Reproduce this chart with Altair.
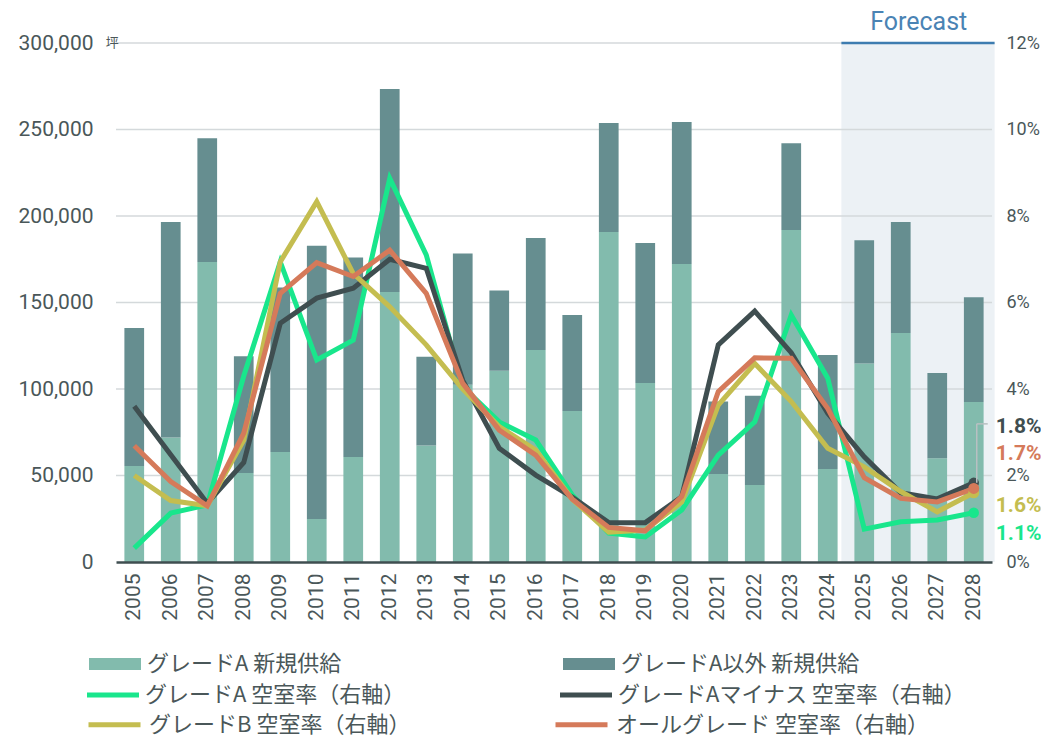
import altair as alt
import pandas as pd

# ---------------- data ----------------
years = list(range(2005, 2029))
grade_a_supply = [55500, 72000, 173400, 51400, 63600, 24900, 60700, 156000, 67400, 102400,
                  110600, 122500, 87300, 190800, 103500, 172300, 50900, 44500, 191900, 53800,
                  114800, 132400, 60000, 92500]
other_supply = [79800, 124500, 71600, 67600, 95000, 157900, 115300, 117400, 51200, 75900,
                46400, 64800, 55500, 63000, 80900, 82000, 41900, 51600, 50100, 65900,
                71200, 64100, 49300, 60500]
vac_a = [0.32, 1.13, 1.32, 4.3, 6.94, 4.67, 5.13, 8.87, 7.1, 4.05, 3.24, 2.82, 1.55, 0.67,
         0.58, 1.2, 2.47, 3.24, 5.71, 4.25, 0.76, 0.93, 0.97, 1.14]
vac_a_minus = [3.6, 2.48, 1.36, 2.3, 5.52, 6.1, 6.33, 7.0, 6.79, 4.2, 2.63, 2.01, 1.5, 0.91,
               0.91, 1.51, 5.02, 5.8, 4.84, 3.44, 2.43, 1.6, 1.46, 1.83]
vac_b = [2.0, 1.42, 1.3, 2.82, 6.94, 8.33, 6.67, 5.9, 5.02, 4.0, 3.13, 2.59, 1.45, 0.69,
         0.74, 1.39, 3.63, 4.59, 3.71, 2.63, 2.2, 1.63, 1.16, 1.6]
vac_all = [2.69, 1.86, 1.3, 2.98, 6.21, 6.92, 6.6, 7.21, 6.21, 4.13, 3.05, 2.47, 1.45, 0.8,
           0.72, 1.51, 3.94, 4.72, 4.71, 3.55, 1.95, 1.47, 1.39, 1.7]

left_ticks = [0, 50000, 100000, 150000, 200000, 250000, 300000]
right_ticks = [0, 2, 4, 6, 8, 10, 12]
forecast_start, forecast_end = 2025, 2028
end_labels = ["1.8%", "1.7%", "1.6%", "1.1%"]

S_A_NEW = "グレードA 新規供給"
S_OTHER_NEW = "グレードA以外 新規供給"
S_VA = "グレードA 空室率（右軸）"
S_VAM = "グレードAマイナス 空室率（右軸）"
S_VB = "グレードB 空室率（右軸）"
S_VALL = "オールグレード 空室率（右軸）"

# ---------------- styles ----------------
LIGHT = "#82bbad"
DARK = "#668e90"
GREEN = "#19e68c"
DARKLINE = "#3f4e50"
OLIVE = "#c4bd50"
ORANGE = "#d57a5a"
BLUE = "#4a83b4"
BLUELINE = "#3d7cb0"
SHADE = "#ecf1f5"
GRID = "#d4d9db"
TXT = "#4a5759"
FONT = "Roboto"
JP = "Noto Sans CJK JP"

# ---------------- tables ----------------
bar_rows = []
for i, y in enumerate(years):
    bar_rows.append({"year": y, "series": S_A_NEW, "supply": grade_a_supply[i], "ord": 0})
    bar_rows.append({"year": y, "series": S_OTHER_NEW, "supply": other_supply[i], "ord": 1})
bars_df = pd.DataFrame(bar_rows)

line_series = [(S_VA, vac_a, GREEN), (S_VAM, vac_a_minus, DARKLINE),
               (S_VB, vac_b, OLIVE), (S_VALL, vac_all, ORANGE)]
line_df = pd.DataFrame([{"year": y, "series": s, "rate": v[i]}
                        for (s, v, c) in line_series for i, y in enumerate(years)])
grid_df = pd.DataFrame({"v": left_ticks[1:]})
fc_df = pd.DataFrame({"start": [forecast_start], "end": [forecast_end]})
fc_text_df = pd.DataFrame({"year": [2026]})
unit_df = pd.DataFrame({"year": [years[0]]})

# ---------------- shared scales / axes ----------------
X_SCALE = alt.Scale(paddingInner=0.46, paddingOuter=0.23)
LY_SCALE = alt.Scale(domain=[0, 300000], nice=False)
RY_SCALE = alt.Scale(domain=[0, 12], nice=False)
FILL_SCALE = alt.Scale(domain=[S_VA, S_VAM], range=[GREEN, DARKLINE])      # legend row 2
STROKE_SCALE = alt.Scale(domain=[S_VB, S_VALL], range=[OLIVE, ORANGE])     # legend row 3

X_AX = alt.Axis(title=None, labelAngle=-90, labelAlign="right", labelBaseline="middle",
                labelFont=FONT, labelFontSize=21, labelColor=TXT, labelPadding=11,
                ticks=False, domainColor=DARKLINE, domainWidth=2.5, zindex=1, grid=False)
LY_AX = alt.Axis(title=None, values=left_ticks, labelExpr="format(datum.value, ',')",
                 domain=False, ticks=False, grid=False, labelFont=FONT, labelFontSize=21,
                 labelColor=TXT, labelPadding=23)
RY_AX = alt.Axis(orient="right", title=None, values=right_ticks,
                 labelExpr="datum.value + '%'", domain=False, ticks=False, grid=False,
                 labelFont=FONT, labelFontSize=18, labelColor=TXT, labelPadding=14)

LEG_COMMON = dict(title=None, orient="none", columns=2, direction="horizontal",
                  labelFont=JP, labelFontSize=22, labelColor=TXT, labelOffset=6,
                  labelLimit=500, padding=0, symbolSize=2704)


def xe(field="year:O", **kw):
    return alt.X(field, scale=X_SCALE, axis=X_AX, **kw)


def ly(field=None, datum=None, **kw):
    if datum is not None:
        return alt.Y(datum=datum, scale=LY_SCALE, axis=LY_AX, **kw)
    return alt.Y(field, scale=LY_SCALE, axis=LY_AX, **kw)


def ry(field="rate:Q"):
    return alt.Y(field, scale=RY_SCALE, axis=RY_AX)


# ---------------- left-axis layers ----------------
shade = alt.Chart(fc_df).mark_rect(color=SHADE, xOffset=-13, x2Offset=11).encode(
    x=xe("start:O", bandPosition=0),
    x2=alt.X2("end", bandPosition=1),
)
grid = alt.Chart(grid_df).mark_rule(color=GRID, strokeWidth=1.5).encode(y=ly("v:Q"))
fc_line = alt.Chart(fc_df).mark_rule(color=BLUELINE, strokeWidth=2.5, xOffset=-13, x2Offset=11).encode(
    x=xe("start:O", bandPosition=0),
    x2=alt.X2("end", bandPosition=1),
    y=ly(datum=300000),
)
bars = alt.Chart(bars_df).mark_bar().encode(
    x=xe(),
    y=ly("supply:Q", stack="zero"),
    color=alt.Color("series:N",
                    scale=alt.Scale(domain=[S_A_NEW, S_OTHER_NEW], range=[LIGHT, DARK]),
                    legend=alt.Legend(legendX=-27, legendY=595, columnPadding=221,
                                      symbolType="M-1,-0.23H1V0.23H-1Z",
                                      symbolStrokeWidth=0, symbolOpacity=1, **LEG_COMMON)),
    order=alt.Order("ord:Q", sort="ascending"),
)
fc_text = alt.Chart(fc_text_df).mark_text(text="Forecast", dx=18, dy=-21, fontSize=25,
                                          color=BLUE, font=FONT, baseline="middle").encode(
    x=xe(), y=ly(datum=300000)
)
unit_text = alt.Chart(unit_df).mark_text(text="坪", dx=-22, fontSize=13, color=TXT, font=JP,
                                         baseline="middle").encode(
    x=xe(), y=ly(datum=300000)
)
left = alt.layer(shade, grid, fc_line, bars, fc_text, unit_text)

# ---------------- right-axis layers ----------------
line_layers = []
for s, v, c in line_series:
    line_layers.append(
        alt.Chart(line_df).transform_filter(alt.datum.series == s)
        .mark_line(strokeWidth=5, strokeJoin="miter", color=c)
        .encode(x=xe(), y=ry())
    )

fill_legend = alt.Legend(legendX=-29, legendY=626, columnPadding=154,
                         symbolType="M-1,-0.1H1V0.1H-1Z", symbolStrokeWidth=0,
                         symbolOpacity=1, **LEG_COMMON)
stroke_legend = alt.Legend(legendX=-30, legendY=653, columnPadding=134,
                           symbolType="stroke", symbolStrokeWidth=5, **LEG_COMMON)
dots = []
for s, v, c in line_series:
    base = (alt.Chart(line_df)
            .transform_filter((alt.datum.series == s) & (alt.datum.year == years[-1])))
    if s in (S_VA, S_VAM):
        dots.append(base.mark_circle(size=110, opacity=1)
                    .encode(x=xe(), y=ry(),
                            fill=alt.Fill("series:N", scale=FILL_SCALE, legend=fill_legend)))
    else:
        dots.append(base.mark_circle(size=90, opacity=1, fill=c, strokeWidth=1.5)
                    .encode(x=xe(), y=ry(),
                            stroke=alt.Stroke("series:N", scale=STROKE_SCALE,
                                              legend=stroke_legend)))

conn_df = line_df[(line_df.series == S_VAM) & (line_df.year == years[-1])]
conn_v = alt.Chart(conn_df).mark_rule(color="#b8c0c2", strokeWidth=1.5, xOffset=3, y2Offset=-59).encode(
    x=xe(), y=ry(), y2="rate:Q")
conn_h = alt.Chart(conn_df).mark_rule(color="#b8c0c2", strokeWidth=1.5, xOffset=3, x2Offset=14,
                                      yOffset=-59).encode(
    x=xe(), x2="year:O", y=ry())

label_dy = [-56, -34, 13, 21]
label_order = [S_VAM, S_VALL, S_VB, S_VA]
label_color = {S_VA: GREEN, S_VAM: DARKLINE, S_VB: OLIVE, S_VALL: ORANGE}
labels = []
for txt, s, dy in zip(end_labels, label_order, label_dy):
    labels.append(
        alt.Chart(line_df).transform_filter((alt.datum.series == s) & (alt.datum.year == years[-1]))
        .mark_text(text=txt, dx=22, dy=dy, align="left", baseline="middle", fontSize=21,
                   fontWeight="bold", font=FONT, color=label_color[s])
        .encode(x=xe(), y=ry())
    )

right = alt.layer(*line_layers, *dots, conn_v, conn_h, *labels)

chart = (
    alt.layer(left, right)
    .resolve_scale(y="independent")
    .properties(width=876, height=519,
                autosize=alt.AutoSizeParams(type="none"),
                padding={"left": 108, "top": 35, "right": 49, "bottom": 178})
    .configure_view(stroke=None)
)

chart.save("out.html", embed_options={"renderer": "svg", "actions": False})
